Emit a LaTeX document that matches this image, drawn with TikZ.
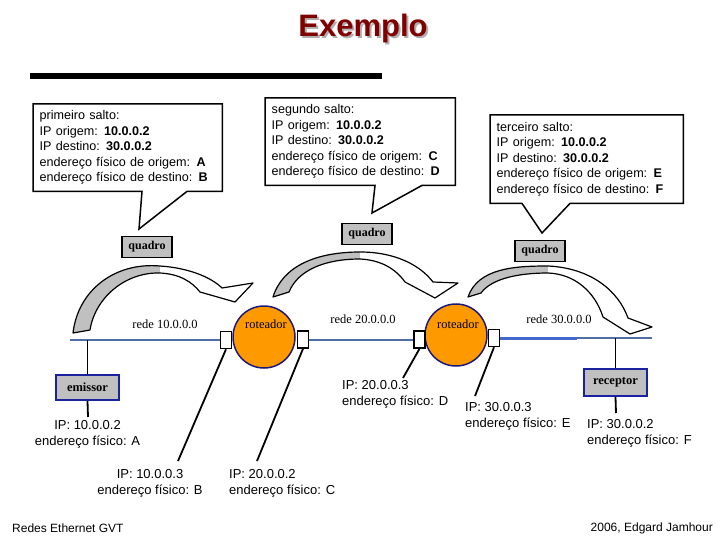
\documentclass[tikz,border=0pt]{standalone}
\usepackage{fontspec}
\setmainfont{Liberation Sans}
\newfontfamily\timesface{Liberation Serif}
\usetikzlibrary{positioning, calc}

\definecolor{titlered}{RGB}{128,0,0}
\definecolor{shadowgray}{RGB}{175,175,175}
\definecolor{netblue}{RGB}{79,110,165}
\definecolor{netbright}{RGB}{65,105,205}
\definecolor{boxblue}{RGB}{25,35,160}
\definecolor{routerfill}{RGB}{255,153,0}
\definecolor{routerline}{RGB}{30,25,125}
\definecolor{framegray}{RGB}{192,192,192}

\tikzset{
  hopbox/.style={align=left, inner xsep=6.5, inner ysep=0, anchor=north west, font=\fontsize{12.6}{15.5}\selectfont},
  callout/.style={draw, line width=1.5, line join=miter},
  framebox/.style={draw, fill=framegray, line width=1.2, minimum width=50, minimum height=21, inner sep=0, font=\timesface\bfseries\fontsize{12}{14}\selectfont},
  hostbox/.style={draw=boxblue, fill=framegray, line width=2, minimum width=63, inner sep=0, font=\timesface\bfseries\fontsize{12.5}{14}\selectfont},
  router/.style={circle, draw=routerline, fill=routerfill, line width=1.5, minimum size=62, inner sep=0},
  port/.style={draw, fill=white, line width=1.5, minimum width=11, minimum height=17, inner sep=0},
  netline/.style={netblue, line width=2},
  wire/.style={black, line width=1.8},
  netlabel/.style={font=\timesface\fontsize{12.5}{14}\selectfont, inner sep=0},
  hostlabel/.style={font=\fontsize{13}{16}\selectfont, inner sep=0},
  bandline/.style={draw, line width=1.2, line join=round},
}

\begin{document}
\begin{tikzpicture}[x=1pt, y=-1pt]
    \useasboundingbox (0,0) rectangle (720,540);

    % title and rule
    \node[text=shadowgray, font=\bfseries\fontsize{31}{36}\selectfont] (titleshadow) at (365,30) {Exemplo};
    \node[text=titlered, font=\bfseries\fontsize{31}{36}\selectfont] (title) at (363,28) {Exemplo};
    \coordinate (ruleL) at (30,76);
    \coordinate (ruleR) at (382,76);
    \draw[line width=6] (ruleL) -- (ruleR);

    % the three hops
    \node[hopbox, text width=176pt, minimum height=87] (hop1) at (33,104)
        {primeiro salto:\\IP origem: \textbf{10.0.0.2}\\IP destino: \textbf{30.0.0.2}\\endereço físico de origem: \textbf{A}\\endereço físico de destino: \textbf{B}};
    \coordinate (tip1) at (139,229);
    \draw[callout] (hop1.south west) -- (hop1.north west) -- (hop1.north east) -- (hop1.south east)
        -- ([xshift=154]hop1.south west) -- (tip1) -- ([xshift=109]hop1.south west) -- cycle;

    \node[hopbox, text width=177pt, minimum height=87] (hop2) at (265,98)
        {segundo salto:\\IP origem: \textbf{10.0.0.2}\\IP destino: \textbf{30.0.0.2}\\endereço físico de origem: \textbf{C}\\endereço físico de destino: \textbf{D}};
    \coordinate (tip2) at (372,213);
    \draw[callout] (hop2.south west) -- (hop2.north west) -- (hop2.north east) -- (hop2.south east)
        -- ([xshift=157]hop2.south west) -- (tip2) -- ([xshift=110]hop2.south west) -- cycle;

    \node[hopbox, text width=180pt, minimum height=88] (hop3) at (490,115)
        {terceiro salto:\\IP origem: \textbf{10.0.0.2}\\IP destino: \textbf{30.0.0.2}\\endereço físico de origem: \textbf{E}\\endereço físico de destino: \textbf{F}};
    \coordinate (tip3) at (542,233);
    \draw[callout] (hop3.south west) -- (hop3.north west) -- (hop3.north east) -- (hop3.south east)
        -- ([xshift=80]hop3.south west) -- (tip3) -- ([xshift=32]hop3.south west) -- cycle;

    % frames
    \node[framebox] (frame1) at (147,247) {quadro};
    \node[framebox] (frame2) at (367,234) {quadro};
    \node[framebox] (frame3) at (540,251) {quadro};

    % bent arrows: gray back, white front
    \fill[framegray] (73,333) .. controls (78,290) and (115,262) .. (160,266) -- (160,273) .. controls (125,272) and (95,298) .. (90,330) -- cycle;
    \fill[white] (160,266) .. controls (190,268) and (212,278) .. (222,288) -- (253,283) -- (235,302) -- (200,292) .. controls (192,282) and (180,274) .. (160,273) -- cycle;
    \draw[bandline] (73,333) .. controls (78,290) and (115,262) .. (160,266) .. controls (190,268) and (212,278) .. (222,288) -- (253,283) -- (235,302) -- (200,292) .. controls (192,282) and (180,274) .. (160,273) .. controls (125,272) and (95,298) .. (90,330) -- cycle;

    \fill[framegray] (273,297) .. controls (283,265) and (318,252) .. (360,252) -- (360,259) .. controls (325,259) and (298,270) .. (289,292) -- cycle;
    \fill[white] (360,252) .. controls (395,252) and (420,265) .. (433,282) -- (458,283) -- (435,298) -- (405,282) .. controls (395,268) and (380,260) .. (360,259) -- cycle;
    \draw[bandline] (273,297) .. controls (283,265) and (318,252) .. (360,252) .. controls (395,252) and (420,265) .. (433,282) -- (458,283) -- (435,298) -- (405,282) .. controls (395,268) and (380,260) .. (360,259) .. controls (325,259) and (298,270) .. (289,292) -- cycle;

    \fill[framegray] (468,297) .. controls (478,268) and (515,266) .. (548,266) -- (548,273) .. controls (520,273) and (492,278) .. (481,293) -- cycle;
    \fill[white] (548,266) .. controls (590,268) and (618,290) .. (628,318) -- (652,327) -- (630,334) -- (603,317) .. controls (595,292) and (575,274) .. (548,273) -- cycle;
    \draw[bandline] (468,297) .. controls (478,268) and (515,266) .. (548,266) .. controls (590,268) and (618,290) .. (628,318) -- (652,327) -- (630,334) -- (603,317) .. controls (595,292) and (575,274) .. (548,273) .. controls (520,273) and (492,278) .. (481,293) -- cycle;

    % routers and their ports
    \node[router] (r1) at (264,337) {};
    \node[router] (r2) at (456,335) {};
    \node[netlabel, below=14pt of r1.north, xshift=2pt] (r1name) {roteador};
    \node[netlabel, below=16pt of r2.north, xshift=2pt] (r2name) {roteador};
    \node[port] (r1w) at (226,340) {};
    \node[port] (r1e) at (303,339.5) {};
    \node[port] (r2w) at (419.5,339.5) {};
    \node[port] (r2e) at (494,338) {};

    % networks
    \coordinate (net1start) at (70,340);
    \coordinate (net3mid) at (577,338);
    \coordinate (net3end) at (652,338);
    \draw[netline] (net1start) -- (r1w.west);
    \draw[netline] (r1e.east) -- (r2w.west);
    \draw[netbright, line width=3] (r2e.east) -- (net3mid);
    \draw[netline] (net3mid) -- (net3end);
    \node[netlabel] (net10) at (165,324) {rede 10.0.0.0};
    \node[netlabel] (net20) at (363,319) {rede 20.0.0.0};
    \node[netlabel] (net30) at (559,319) {rede 30.0.0.0};

    % hosts
    \node[hostbox, minimum height=25] (sender) at (87.5,387.5) {emissor};
    \node[hostbox, minimum height=27] (receiver) at (615.5,382.5) {receptor};
    \coordinate (senderend) at (88,417);
    \coordinate (receiverend) at (616,413);
    \draw[wire] (sender.north) -- (sender.north |- net1start);
    \draw[wire] (sender.south) -- (senderend);
    \draw[wire] (receiver.north) -- (receiver.north |- net3end);
    \draw[wire] (receiver.south) -- (receiverend);

    % interface wires
    \coordinate (endB) at (178,461);
    \coordinate (endC) at (257,461);
    \coordinate (endD) at (403,378);
    \coordinate (endE) at (475,396);
    \draw[wire] (r1w.south) -- (endB);
    \draw[wire] (r1e.south) -- (endC);
    \draw[wire] (r2w.south) -- (endD);
    \draw[wire] (r2e.south) -- (endE);

    % addresses
    \node[hostlabel, align=center, below=19pt of sender] (hostA) {IP: 10.0.0.2\\endereço físico: A};
    \node[hostlabel, align=center] (hostB) at (150,483) {IP: 10.0.0.3\\endereço físico: B};
    \node[hostlabel, align=left, anchor=west] (hostC) at (229,483) {IP: 20.0.0.2\\endereço físico: C};
    \node[hostlabel, align=left, anchor=west] (hostD) at (342,394.5) {IP: 20.0.0.3\\endereço físico: D};
    \node[hostlabel, align=left, anchor=west] (hostE) at (465,416) {IP: 30.0.0.3\\endereço físico: E};
    \node[hostlabel, align=left, anchor=west] (hostF) at (587,433) {IP: 30.0.0.2\\endereço físico: F};

    % footer
    \node[font=\fontsize{12}{14}\selectfont, anchor=west, inner sep=0] (footL) at (12,528) {Redes Ethernet GVT};
    \node[font=\fontsize{12}{14}\selectfont, anchor=east, inner sep=0] (footR) at (713,528) {2006, Edgard Jamhour};
\end{tikzpicture}
\end{document}
